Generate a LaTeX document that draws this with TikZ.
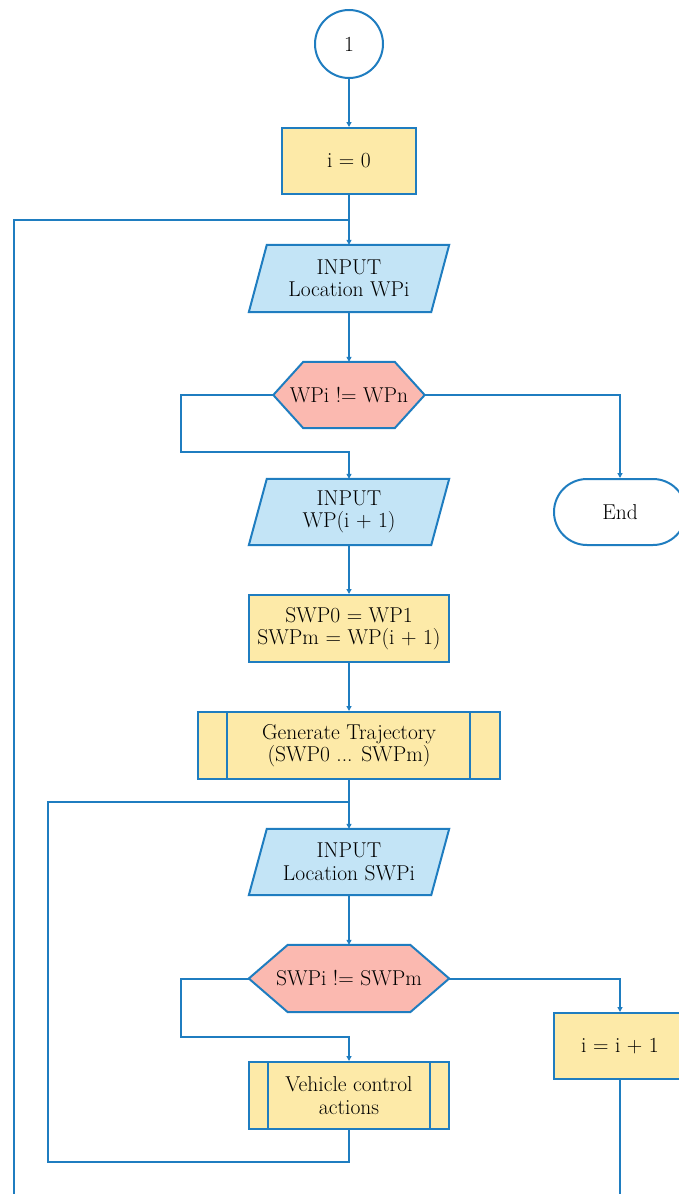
\documentclass[tikz,border=0pt]{standalone}
\usetikzlibrary{calc,arrows.meta,shapes.misc}
\pgfdeclarelayer{bg}
\pgfsetlayers{bg,main}

\definecolor{flowblue}{HTML}{1F7DC0}
\definecolor{procfill}{HTML}{FDEAA8}
\definecolor{iofill}{HTML}{C3E4F6}
\definecolor{decfill}{HTML}{FBB9B0}

\tikzset{
  txt/.style={align=center, inner sep=0pt, font=\fontsize{21.5}{22.5}\selectfont},
  slot/.style={txt, draw=none},
  proc/.style={txt, draw=flowblue, fill=procfill, line width=2pt},
  term/.style={txt, draw=flowblue, fill=white, line width=2pt},
  ioshape/.style={draw=flowblue, fill=iofill, line width=2pt, line join=miter},
  decshape/.style={draw=flowblue, fill=decfill, line width=2pt, line join=miter},
  wire/.style={draw=flowblue, line width=2pt},
  flow/.style={wire, -{Triangle[length=5pt,width=5pt]}},
}

\begin{document}
\begin{tikzpicture}[x=1pt,y=-1pt]
\useasboundingbox (0,0) rectangle (678,1194);

% nodes
\node[term, circle, minimum size=68pt] (start) at (349,44) {1};
\node[proc, minimum width=134pt, minimum height=66pt] (init) at (349,161) {i = 0};
\node[slot, minimum width=200pt, minimum height=67pt] (inwp) at (349,278.5) {INPUT\\Location WPi};
\node[slot, minimum width=151pt, minimum height=66pt] (dec1) at (349,395) {WPi != WPn};
\node[slot, minimum width=200pt, minimum height=66pt] (inwpn) at (349,512) {INPUT\\WP(i + 1)};
\node[term, rounded rectangle, minimum width=132pt, minimum height=66pt] (end) at (620,512) {End};
\node[proc, minimum width=200pt, minimum height=67pt] (swp) at (349,628.5) {SWP0 = WP1\\SWPm = WP(i + 1)};
\node[proc, minimum width=302pt, minimum height=67pt] (gen) at (349,745.5) {Generate Trajectory\\(SWP0 ... SWPm)};
\node[slot, minimum width=200pt, minimum height=66pt] (inswp) at (349,862) {INPUT\\Location SWPi};
\node[slot, minimum width=200pt, minimum height=67pt] (dec2) at (349,978.5) {SWPi != SWPm};
\node[proc, minimum width=200pt, minimum height=67pt] (veh) at (349,1095.5) {Vehicle control\\actions};
\node[proc, minimum width=132pt, minimum height=66pt] (inc) at (620,1046) {i = i + 1};

% shape outlines drawn behind the text
\begin{pgfonlayer}{bg}
  \foreach \n in {inwp,inwpn,inswp}{
    \path[ioshape] ($(\n.north west)+(18,0)$) -- (\n.north east)
      -- ($(\n.south east)+(-18,0)$) -- (\n.south west) -- cycle;
  }
  \path[decshape] ($(dec1.north west)+(30,0)$) -- ($(dec1.north east)+(-30,0)$)
    -- (dec1.east) -- ($(dec1.south east)+(-30,0)$) -- ($(dec1.south west)+(30,0)$)
    -- (dec1.west) -- cycle;
  \path[decshape] ($(dec2.north west)+(39,0)$) -- ($(dec2.north east)+(-39,0)$)
    -- (dec2.east) -- ($(dec2.south east)+(-39,0)$) -- ($(dec2.south west)+(39,0)$)
    -- (dec2.west) -- cycle;
\end{pgfonlayer}

% side bars of the predefined processes
\draw[wire] ($(gen.north west)+(30,0)$) -- ($(gen.south west)+(30,0)$);
\draw[wire] ($(gen.north east)+(-31,0)$) -- ($(gen.south east)+(-31,0)$);
\draw[wire] ($(veh.north west)+(20,0)$) -- ($(veh.south west)+(20,0)$);
\draw[wire] ($(veh.north east)+(-20,0)$) -- ($(veh.south east)+(-20,0)$);

% junction points of the loops
\coordinate (m1) at (349,220);
\coordinate (m2) at (349,802);
\coordinate (j1) at (181,452);
\coordinate (j2) at (181,1037);
\coordinate (j3) at (48,1162);
\coordinate (bl) at (14,1200);
\coordinate (br) at (620,1200);

% connectors
\draw[flow] (start) -- (init);
\draw[wire] (init) -- (m1);
\draw[flow] (m1) -- (inwp);
\draw[wire] (bl) |- (m1);
\draw[flow] (inwp) -- (dec1);
\draw[flow] (dec1.west) -| (j1) -| (inwpn.north);
\draw[flow] (dec1.east) -| (end.north);
\draw[flow] (inwpn) -- (swp);
\draw[flow] (swp) -- (gen);
\draw[wire] (gen) -- (m2);
\draw[flow] (m2) -- (inswp);
\draw[flow] (inswp) -- (dec2);
\draw[flow] (dec2.west) -| (j2) -| (veh.north);
\draw[flow] (dec2.east) -| (inc.north);
\draw[wire] (veh.south) |- (j3) |- (m2);
\draw[wire] (inc.south) -- (br);
\end{tikzpicture}
\end{document}
